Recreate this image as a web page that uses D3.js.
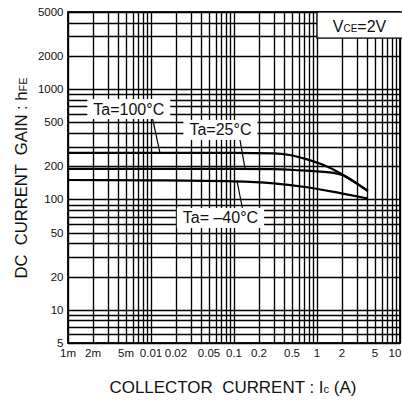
<!DOCTYPE html>
<html><head><meta charset="utf-8">
<script src="https://cdn.jsdelivr.net/npm/d3@7"></script>
<style>
html,body{margin:0;padding:0;background:#fff;}
svg{display:block;font-family:"Liberation Sans",Arial,sans-serif;}
.pre{white-space:pre;}
</style></head>
<body>
<svg id="c" width="402" height="402"></svg>
<script>
// ---- data ----
const xTickValues = [0.001,0.002,0.005,0.01,0.02,0.05,0.1,0.2,0.5,1,2,5,10];
const xTickLabels = ["1m","2m","5m","0.01","0.02","0.05","0.1","0.2","0.5","1","2","5","10"];
const yTickValues = [5,10,20,50,100,200,500,1000,2000,5000];
const yTickLabels = ["5","10","20","50","100","200","500","1000","2000","5000"];

const ic100  = [0.001, 0.1, 0.3, 0.47, 0.76, 1.2, 1.9, 3, 4.1];
const hfe100 = [264,   264, 262, 253,  231,  205, 173, 140, 119];
const ic25   = [0.001, 0.1, 0.3, 0.6, 1,   1.5, 2,   3,   4.1];
const hfe25  = [189,   189, 188, 184, 180, 175, 167, 140, 120];
const icM40  = [0.001, 0.01, 0.1, 0.3, 0.76, 1.9, 4.1];
const hfeM40 = [150,   149,  146, 140, 129,  114, 102];

const seriesNames = ["Ta=100°C", "Ta=25°C", "Ta= –40°C"];
// annotation anchors in data units: label centre, pointer start, pointer end
const labelIc   = [0.0054, 0.0687, 0.0687];
const labelHfe  = [660, 427, 68];
const ptrFromIc = [0.0103, 0.118, 0.128];
const ptrFromH  = [570, 346, 79];
const ptrToIc   = [0.0128, 0.136, 0.1087];
const ptrToH    = [264, 189, 147];

const condIc = [1, 10];      // VCE box span (A)
const condH  = [2900, 5000];

// ---- chart ----
const svg = d3.select("#c");
const x = d3.scaleLog().domain([0.001, 10]).range([68, 400]);
const y = d3.scaleLog().domain([5, 5000]).range([343, 12]);

svg.append("rect").attr("width",402).attr("height",402).attr("fill","#fff");

// grid values 1..9 per decade
const gx = [], gy = [];
for (let d = -3; d < 1; d++) for (let m = 1; m <= 9; m++) gx.push(m * Math.pow(10, d));
gx.push(10);
for (let d = 0; d < 4; d++) for (let m = 1; m <= 9; m++) { const v = m * Math.pow(10, d); if (v >= 5 && v <= 5000) gy.push(v); }

const grid = svg.append("g").attr("stroke","#000").attr("stroke-width",1.35);
grid.selectAll("line.v").data(gx).join("line").attr("class","v")
  .attr("x1", d => Math.round(x(d))+0.5).attr("x2", d => Math.round(x(d))+0.5)
  .attr("y1", y(5000)).attr("y2", y(5));
grid.selectAll("line.h").data(gy).join("line").attr("class","h")
  .attr("y1", d => Math.round(y(d))+0.5).attr("y2", d => Math.round(y(d))+0.5)
  .attr("x1", x(0.001)).attr("x2", x(10));

// border
svg.append("rect").attr("x", x(0.001)).attr("y", y(5000))
  .attr("width", x(10)-x(0.001)).attr("height", y(5)-y(5000))
  .attr("fill","none").attr("stroke","#000").attr("stroke-width",1.8);

// curves
const line = d3.line().x(d => x(d[0])).y(d => y(d[1])).curve(d3.curveMonotoneX);
const series = [d3.zip(ic100,hfe100), d3.zip(ic25,hfe25), d3.zip(icM40,hfeM40)];
svg.append("g").selectAll("path").data(series).join("path")
  .attr("d", line).attr("fill","none").attr("stroke","#000").attr("stroke-width",2.2);

// annotations
const ann = svg.append("g");
seriesNames.forEach((name, i) => {
  ann.append("line")
    .attr("x1", x(ptrFromIc[i])).attr("y1", y(ptrFromH[i]))
    .attr("x2", x(ptrToIc[i])).attr("y2", y(ptrToH[i]))
    .attr("stroke","#000").attr("stroke-width",1.2);
  const cx = x(labelIc[i]), cy = y(labelHfe[i]);
  const g = ann.append("g");
  const r = g.append("rect").attr("fill","#fff");
  const t = g.append("text").attr("x", cx).attr("y", cy + 5.5)
    .attr("text-anchor","middle").attr("font-size", 16).attr("fill","#111").text(name);
  const bb = t.node().getBBox();
  r.attr("x", bb.x - 6).attr("y", cy - 10).attr("width", bb.width + 12).attr("height", 20);
});

// VCE box
const bx0 = x(condIc[0]), bx1 = x(condIc[1]), by0 = y(condH[1]), by1 = y(condH[0]);
svg.append("rect").attr("x", bx0).attr("y", by0).attr("width", bx1-bx0+4).attr("height", by1-by0)
  .attr("fill","#fff").attr("stroke","#000").attr("stroke-width",1.3);
const vt = svg.append("text").attr("x",(bx0+bx1)/2+1).attr("y", by1-6)
  .attr("text-anchor","middle").attr("font-size",16).attr("fill","#111");
vt.append("tspan").text("V");
vt.append("tspan").attr("font-size",10).text("CE");
vt.append("tspan").text("=2V");

// tick labels
svg.append("g").selectAll("text").data(xTickValues).join("text")
  .attr("x", d => Math.min(x(d), 395)).attr("y", 357).attr("text-anchor","middle")
  .attr("font-size", 11.5).attr("fill","#111")
  .text((d,i) => xTickLabels[i]);
svg.append("g").selectAll("text").data(yTickValues).join("text")
  .attr("x", 63.5).attr("y", d => y(d) + 4).attr("text-anchor","end")
  .attr("font-size", 11.5).attr("fill","#111")
  .text((d,i) => yTickLabels[i]);

// axis titles
const xt = svg.append("text").attr("class","pre").attr("x", 233).attr("y", 393).attr("text-anchor","middle")
  .attr("font-size", 16.5).attr("fill","#111");
xt.append("tspan").text("COLLECTOR  CURRENT : I");
xt.append("tspan").attr("font-size", 11).text("c");
xt.append("tspan").text(" (A)");

const yt = svg.append("text").attr("class","pre").attr("transform","translate(27,178) rotate(-90)")
  .attr("text-anchor","middle").attr("font-size", 16).attr("fill","#111");
yt.append("tspan").text("DC  CURRENT  GAIN : h");
yt.append("tspan").attr("font-size", 10.5).text("FE");

// fit titles to the reference's measured lengths
function fit(sel, len) {
  const w = sel.node().getComputedTextLength();
  if (w > 0) {
    const fs = +sel.attr("font-size");
    const k = len / w;
    sel.attr("font-size", fs * k);
    sel.selectAll("tspan").each(function() {
      const t = d3.select(this);
      if (t.attr("font-size")) t.attr("font-size", +t.attr("font-size") * k);
    });
  }
}
fit(xt, 247);
fit(yt, 201);
</script>
</body></html>
